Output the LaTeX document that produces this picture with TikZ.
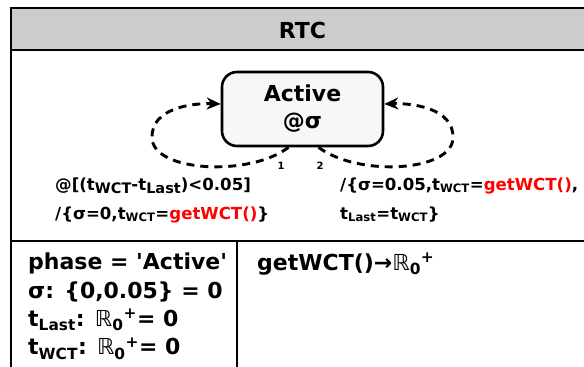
\documentclass[tikz,border=0pt]{standalone}
\usepackage{fontspec}
\setmainfont{DejaVu Sans}
\usetikzlibrary{arrows.meta, positioning}

\definecolor{hdrgray}{RGB}{204,204,204}
\definecolor{statefill}{RGB}{247,247,247}
\newcommand{\sbs}[1]{\textsubscript{#1}}
\newcommand{\lowsub}[1]{\raisebox{-0.35ex}{\fontsize{14.5}{14.5}\selectfont #1}}
\newcommand{\Rnn}{{\mdseries ℝ}\textsubscript{0}\textsuperscript{+}}

\begin{document}
\begin{tikzpicture}[
    x=1pt, y=-1pt,
    statebox/.style={draw, line width=2.6pt, rectangle, rounded corners=15pt, fill=statefill,
        minimum width=161pt, minimum height=74pt, align=center,
        font=\fontsize{22}{27}\selectfont\bfseries},
    trans/.style={dashed, dash pattern=on 8pt off 6pt, line width=2.9pt, -{Stealth[length=14pt, width=12pt]}},
    guard/.style={anchor=base west, inner sep=0pt, font=\fontsize{16.6}{20}\selectfont\bfseries},
    portnum/.style={inner sep=0pt, font=\fontsize{10}{10}\selectfont\bfseries},
    cell/.style={anchor=north west, inner sep=0pt, align=left, font=\fontsize{22}{28.3}\selectfont\bfseries}
]
    \useasboundingbox (0,0) rectangle (584,367);

    % Frame and header
    \fill[hdrgray] (11,8) rectangle (590,50);
    \draw[line width=2.2pt] (11,380) -- (11,8) -- (590,8);
    \draw[line width=2.2pt] (11,50) -- (590,50);
    \draw[line width=2.2pt] (11,241) -- (590,241);
    \draw[line width=2.2pt] (237,241) -- (237,380);
    \node[font=\fontsize{22}{22}\selectfont\bfseries] (title) at (302.5,30) {RTC};

    % State
    \node[statebox] (act) at (302.5,109) {Active\\@σ};

    % Self loops
    \draw[trans] ([xshift=-14pt]act.south) .. controls (250,177) and (153,172) .. (152,138)
        .. controls (151,108) and (192,103) .. ([yshift=5pt]act.west);
    \draw[trans] ([xshift=16pt]act.south) .. controls (358,177) and (452,172) .. (453,138)
        .. controls (454,108) and (412,103) .. ([yshift=5pt]act.east);
    \node[portnum] (p1) at (281,166) {1};
    \node[portnum] (p2) at (320,166) {2};

    % Transition labels
    \node[guard] (cond) at (55,190) {@[(t\lowsub{WCT}-t\lowsub{Last})<0.05]};
    \node[guard] (outl) at (55,219) {/\{σ=0,t\sbs{WCT}=\textcolor{red}{getWCT()}\}};
    \node[guard] (outr) at (340,190) {/\{σ=0.05,t\sbs{WCT}=\textcolor{red}{getWCT()},};
    \node[guard] (outr2) at (340,219) {t\sbs{Last}=t\sbs{WCT}\}};

    % Variables and functions
    \node[cell] (vars) at (28,253) {phase = \textquotesingle Active\textquotesingle\\σ: \{0,0.05\} = 0\\t\sbs{Last}: \Rnn= 0\\t\sbs{WCT}: \Rnn= 0};
    \node[cell] (funcs) at (257,253) {getWCT()→\Rnn};
\end{tikzpicture}
\end{document}
